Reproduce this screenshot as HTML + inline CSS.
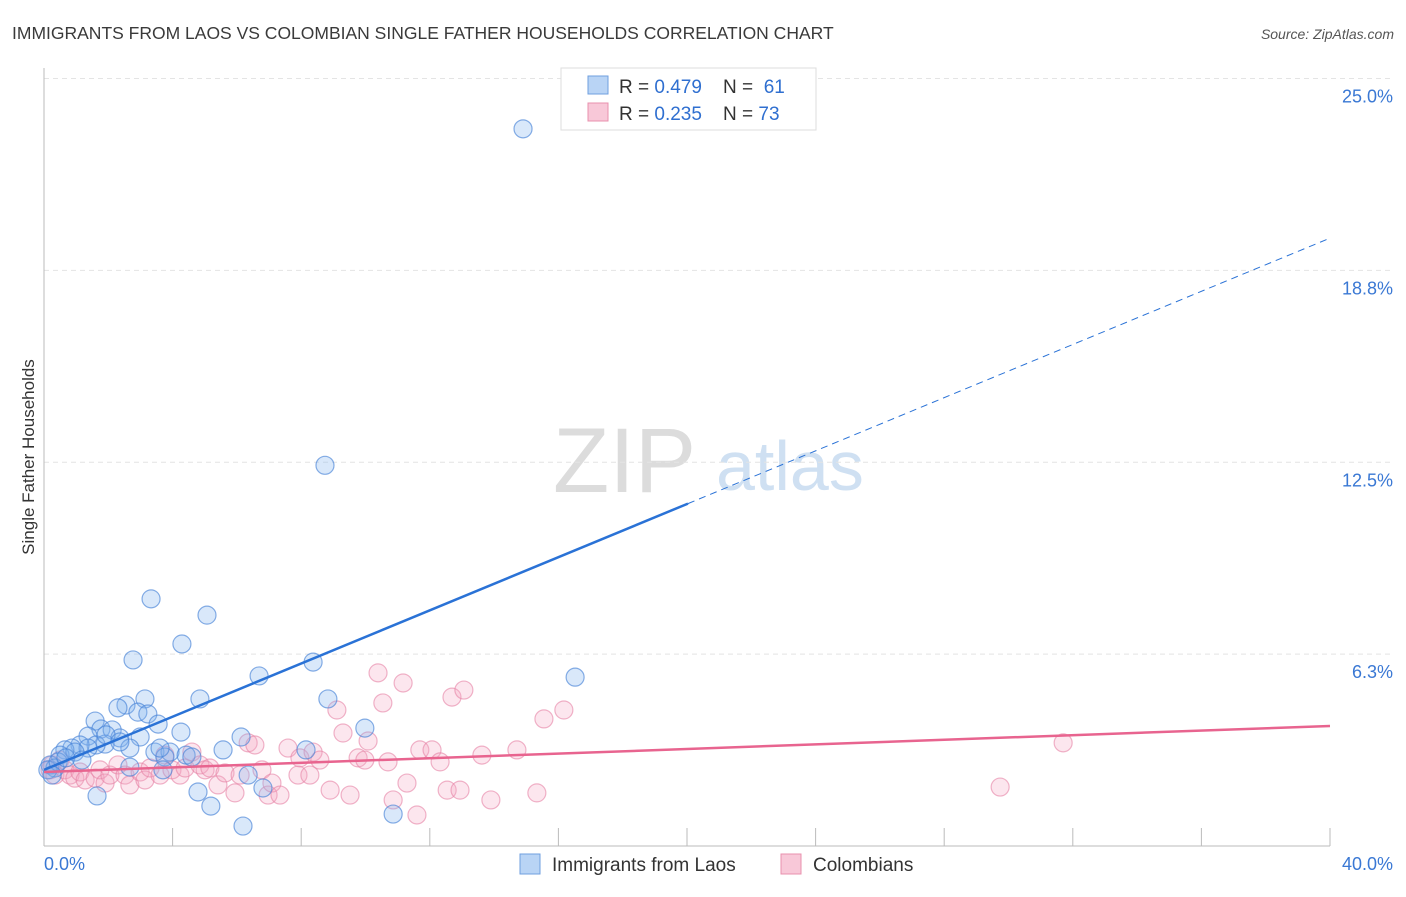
<!DOCTYPE html>
<html><head><meta charset="utf-8"><style>
body{margin:0;background:#fff;font-family:"Liberation Sans",sans-serif;}
svg text{font-family:"Liberation Sans",sans-serif;}
</style></head><body>
<svg id="chart" width="1406" height="892" xmlns="http://www.w3.org/2000/svg">
<text x="12" y="39" font-size="17.5" fill="#3a3a3a">IMMIGRANTS FROM LAOS VS COLOMBIAN SINGLE FATHER HOUSEHOLDS CORRELATION CHART</text>
<text x="1394" y="39" font-size="14" fill="#555" font-style="italic" text-anchor="end">Source: ZipAtlas.com</text>
<text transform="translate(34,457) rotate(-90)" font-size="17" fill="#333" text-anchor="middle">Single Father Households</text>
<g>
<text x="553" y="492" font-size="92" fill="#dcdcdc" font-family="Liberation Serif, serif">ZIP</text>
<text x="716" y="490" font-size="70" fill="#cfe0f2">atlas</text>
</g>
<g id="grid"></g><g id="axes"></g><g id="trends"></g><g id="points"></g>
<g>
<rect x="561" y="68" width="255" height="62" fill="#fff" stroke="#ddd"/>
<rect x="588" y="76" width="20" height="18" fill="#b9d4f5" stroke="#6f9fdf"/>
<text x="619" y="93" font-size="19" fill="#333" xml:space="preserve">R = <tspan fill="#2f6fd0">0.479</tspan>    N =  <tspan fill="#2f6fd0">61</tspan></text>
<rect x="588" y="103" width="20" height="18" fill="#f8c8d8" stroke="#e890ae"/>
<text x="619" y="120" font-size="19" fill="#333" xml:space="preserve">R = <tspan fill="#2f6fd0">0.235</tspan>    N = <tspan fill="#2f6fd0">73</tspan></text>
</g>
<g>
<rect x="520" y="854" width="20" height="20" fill="#b9d4f5" stroke="#6f9fdf"/>
<text x="552" y="871" font-size="19" fill="#333">Immigrants from Laos</text>
<rect x="781" y="854" width="20" height="20" fill="#f8c8d8" stroke="#e890ae"/>
<text x="813" y="871" font-size="19" fill="#333">Colombians</text>
</g>
</svg>
<script>
const blueX=[14.90,8.74,3.33,5.07,4.29,2.77,8.37,16.52,6.69,3.14,4.85,8.83,2.55,2.30,2.92,3.23,1.59,3.55,9.98,4.26,1.77,2.12,6.13,1.37,2.36,1.90,2.99,2.67,5.57,8.15,3.45,3.92,1.62,1.12,0.87,0.65,0.50,1.37,0.96,4.42,3.76,2.67,3.70,6.35,4.60,0.19,0.34,0.12,0.44,0.25,6.81,4.79,1.65,5.19,10.86,6.19,0.68,1.18,1.93,3.61,2.36];
const blueY=[23.36,12.40,8.05,7.52,6.58,6.06,5.99,5.50,5.54,4.79,4.79,4.79,4.59,4.50,4.36,4.30,4.07,3.97,3.84,3.71,3.81,3.78,3.55,3.58,3.52,3.32,3.55,3.19,3.13,3.13,3.06,3.06,3.29,3.29,3.19,3.13,2.96,3.19,3.06,2.96,2.90,2.57,2.48,2.31,2.90,2.64,2.54,2.48,2.74,2.31,1.89,1.76,1.63,1.30,1.04,0.65,2.87,2.80,3.62,3.19,3.39];
const pinkX=[0.50,0.19,0.34,0.65,0.81,0.96,1.12,1.28,1.59,1.74,1.90,2.05,2.30,2.52,2.67,2.99,3.14,3.30,3.61,3.76,3.98,4.23,4.39,4.60,4.85,5.01,5.16,5.41,5.63,5.94,6.10,6.35,6.56,6.78,6.97,7.09,7.34,7.59,7.90,7.96,8.27,8.37,8.58,8.90,9.11,9.30,9.52,9.77,9.98,10.08,10.39,10.54,10.70,10.86,11.17,11.29,11.60,11.69,12.07,12.32,12.54,12.69,12.94,13.06,13.62,13.90,14.71,15.33,15.55,16.17,29.74,31.70,0.25];
const pinkY=[2.80,2.48,2.31,2.48,2.31,2.21,2.41,2.15,2.21,2.48,2.05,2.31,2.64,2.31,1.99,2.41,2.15,2.54,2.31,2.96,2.48,2.31,2.54,3.06,2.64,2.48,2.54,1.99,2.38,1.73,2.31,3.36,3.29,2.48,1.66,2.05,1.66,3.19,2.31,2.87,2.31,3.06,2.80,1.82,4.43,3.68,1.66,2.87,2.80,3.42,5.64,4.66,2.74,1.50,5.31,2.05,1.01,3.13,3.13,2.74,1.82,4.85,1.82,5.08,2.96,1.50,3.13,1.73,4.14,4.43,1.92,3.36,2.64];
const blueTrend=[2.48,19.80];
const blueSolidEnd=20.03;
const pinkTrend=[2.41,3.91];
const yTicks=[6.25,12.5,18.75,25];
const yTickLabels=["6.3%","12.5%","18.8%","25.0%"];
const xTickVals=[0,4,8,12,16,20,24,28,32,36,40];

const NS="http://www.w3.org/2000/svg";
const X0=44,X1=1330,Y0=846,YS=30.7;
const sx=v=>X0+(X1-X0)*v/40;
const sy=v=>Y0-v*YS;
function mk(tag,attrs,parent){const e=document.createElementNS(NS,tag);for(const k in attrs)e.setAttribute(k,attrs[k]);parent.appendChild(e);return e;}
const grid=document.getElementById('grid'),axes=document.getElementById('axes'),pts=document.getElementById('points');
yTicks.forEach((t,i)=>{
 const l=mk('line',{x1:X0,x2:1394,y1:sy(t),y2:sy(t),stroke:'#e4e4e4','stroke-dasharray':'5,4'},grid);
 
 
 const tx=mk('text',{x:1393,y:sy(t)+24,'font-size':18,fill:'#3a78d4','text-anchor':'end'},grid);
 tx.textContent=yTickLabels[i];
 
 
});
const ya=mk('line',{x1:X0,x2:X0,y1:68,y2:Y0,stroke:'#bbb'},axes);


const xa=mk('line',{x1:X0,x2:X1,y1:Y0,y2:Y0,stroke:'#bbb'},axes);


xTickVals.forEach(v=>{
 const t=mk('line',{x1:sx(v),x2:sx(v),y1:828,y2:Y0,stroke:'#bbb'},axes);
 
 
});
const xl0=mk('text',{x:44,y:870,'font-size':18,fill:'#3a78d4'},axes);xl0.textContent='0.0%';


const xl1=mk('text',{x:1393,y:870,'font-size':18,fill:'#3a78d4','text-anchor':'end'},axes);xl1.textContent='40.0%';



const by=x=>blueTrend[0]+(blueTrend[1]-blueTrend[0])*x/40;
const py=x=>pinkTrend[0]+(pinkTrend[1]-pinkTrend[0])*x/40;

function dots(xs,ys,fill,stroke,name){xs.forEach((x,i)=>{
 const c=mk('circle',{cx:sx(x),cy:sy(ys[i]),r:9,fill:fill,stroke:stroke,'stroke-width':1.2},pts);
 
 
});}
dots(pinkX,pinkY,'rgba(244,165,195,0.28)','rgba(230,130,165,0.6)','colombians-point');
dots(blueX,blueY,'rgba(130,178,238,0.3)','rgba(70,130,215,0.65)','laos-point');

const bs=mk('line',{x1:sx(0),y1:sy(by(0)),x2:sx(blueSolidEnd),y2:sy(by(blueSolidEnd)),stroke:'#2a72d6','stroke-width':2.5},pts);


const bd=mk('line',{x1:sx(blueSolidEnd),y1:sy(by(blueSolidEnd)),x2:sx(40),y2:sy(by(40)),stroke:'#2a72d6','stroke-width':1,'stroke-dasharray':'7,5'},pts);


const pl=mk('line',{x1:sx(0),y1:sy(py(0)),x2:sx(40),y2:sy(py(40)),stroke:'#e8648f','stroke-width':2.5},pts);


</script>
</body></html>
